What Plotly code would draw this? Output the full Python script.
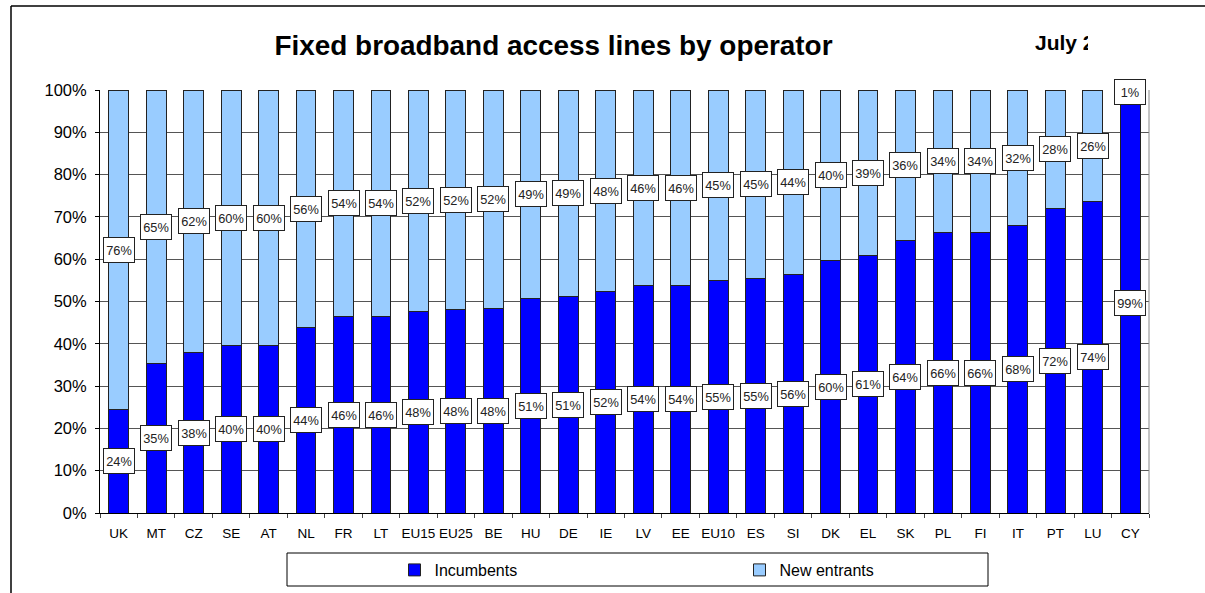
import plotly.graph_objects as go

categories = ["UK", "MT", "CZ", "SE", "AT", "NL", "FR", "LT", "EU15", "EU25", "BE", "HU", "DE",
              "IE", "LV", "EE", "EU10", "ES", "SI", "DK", "EL", "SK", "PL", "FI", "IT", "PT", "LU", "CY"]
incumbents = [24.4, 35.3, 37.9, 39.7, 39.7, 43.8, 46.4, 46.4, 47.6, 48.1, 48.3, 50.6, 51.2,
              52.4, 53.7, 53.7, 54.9, 55.4, 56.3, 59.8, 60.9, 64.4, 66.2, 66.4, 67.9, 72.1, 73.6, 99.2]
new_entrants = [75.6, 64.7, 62.1, 60.3, 60.3, 56.2, 53.6, 53.6, 52.4, 51.9, 51.7, 49.4, 48.8,
                47.6, 46.3, 46.3, 45.1, 44.6, 43.7, 40.2, 39.1, 35.6, 33.8, 33.6, 32.1, 27.9, 26.4, 0.8]
y_ticks = [0, 10, 20, 30, 40, 50, 60, 70, 80, 90, 100]
y_tick_labels = [f"{v}%" for v in y_ticks]

FONT = "Liberation Sans, Arial, sans-serif"

# plot-area geometry (pixels) used to place decorations in paper coords
W, H = 1205, 593
L, R, T, B = 100, 56, 90, 80
PW, PH = W - L - R, H - T - B


def px(x):
    return (x - L) / PW


def py(y):
    return (H - B - y) / PH


fig = go.Figure()
fig.add_trace(go.Bar(x=categories, y=incumbents, name="Incumbents",
                     marker=dict(color="#0000FF", line=dict(color="#222222", width=1))))
fig.add_trace(go.Bar(x=categories, y=new_entrants, name="New entrants",
                     marker=dict(color="#99CCFF", line=dict(color="#222222", width=1))))

annotations = []
for c, a, b in zip(categories, incumbents, new_entrants):
    for val, ypos in ((a, a / 2), (b, a + b / 2)):
        annotations.append(dict(
            x=c, y=ypos, xref="x", yref="y", text=f"{round(val)}%", showarrow=False,
            font=dict(family=FONT, size=12.8, color="#222222"),
            bgcolor="white", bordercolor="#222222", borderwidth=1, borderpad=1,
            width=28, height=22, xanchor="center", yanchor="middle"))

# date label (clipped in the original)
annotations.append(dict(x=px(1033), y=py(43), xref="paper", yref="paper", text="<b>July 2</b>",
                        showarrow=False, xanchor="left", yanchor="middle",
                        font=dict(family=FONT, size=21, color="black")))
annotations.append(dict(x=px(1088), y=py(43), xref="paper", yref="paper", text=" ",
                        showarrow=False, xanchor="left", yanchor="middle", width=40, height=36,
                        bgcolor="white", borderpad=0, borderwidth=0))

shapes = [
    # outer frame (left & top)
    dict(type="line", xref="paper", yref="paper", x0=px(11), x1=px(11), y0=py(6), y1=py(600),
         line=dict(color="black", width=1.5)),
    dict(type="line", xref="paper", yref="paper", x0=px(11), x1=px(1215), y0=py(6), y1=py(6),
         line=dict(color="black", width=1.5)),
    # right plot border
    dict(type="line", xref="paper", yref="paper", x0=1, x1=1, y0=0, y1=1,
         line=dict(color="#888888", width=1)),
    # legend box
    dict(type="rect", xref="paper", yref="paper", x0=px(287), x1=px(988), y0=py(586), y1=py(553),
         line=dict(color="black", width=1), fillcolor="rgba(0,0,0,0)"),
]

fig.update_layout(
    barmode="stack",
    bargap=0.47,
    width=W, height=H,
    margin=dict(l=L, r=R, t=T, b=B, autoexpand=False),
    paper_bgcolor="white", plot_bgcolor="white",
    font=dict(family=FONT, color="black"),
    title=dict(text="<b>Fixed broadband access lines by operator</b>", x=553.5 / W, xanchor="center",
               y=1 - 45 / H, yanchor="middle", font=dict(family=FONT, size=27.9, color="black")),
    xaxis=dict(type="category", showgrid=False, showline=True, linecolor="black", linewidth=1,
               ticks="outside", tickson="boundaries", ticklen=4, tickcolor="#444444", tickangle=0,
               ticklabelstandoff=8,
               tickfont=dict(family=FONT, size=13.5, color="black"), fixedrange=True),
    yaxis=dict(range=[0, 100], tickvals=y_ticks, ticktext=y_tick_labels, showgrid=True,
               gridcolor="#555555", gridwidth=1, zeroline=False, showline=True, linecolor="black",
               linewidth=1, ticks="outside", ticklen=4, tickcolor="black", ticklabelstandoff=5,
               tickfont=dict(family=FONT, size=16.5, color="black"), fixedrange=True),
    legend=dict(orientation="h", x=px(394.5), xanchor="left", y=py(570), yanchor="middle",
                entrywidth=300, entrywidthmode="pixels", bgcolor="rgba(0,0,0,0)",
                font=dict(family=FONT, size=16, color="black"), traceorder="normal"),
    annotations=annotations,
    shapes=shapes,
)

fig.write_html("out.html", config={"displayModeBar": False},
               post_script="document.body.style.margin='0';document.body.style.overflow='hidden';")
